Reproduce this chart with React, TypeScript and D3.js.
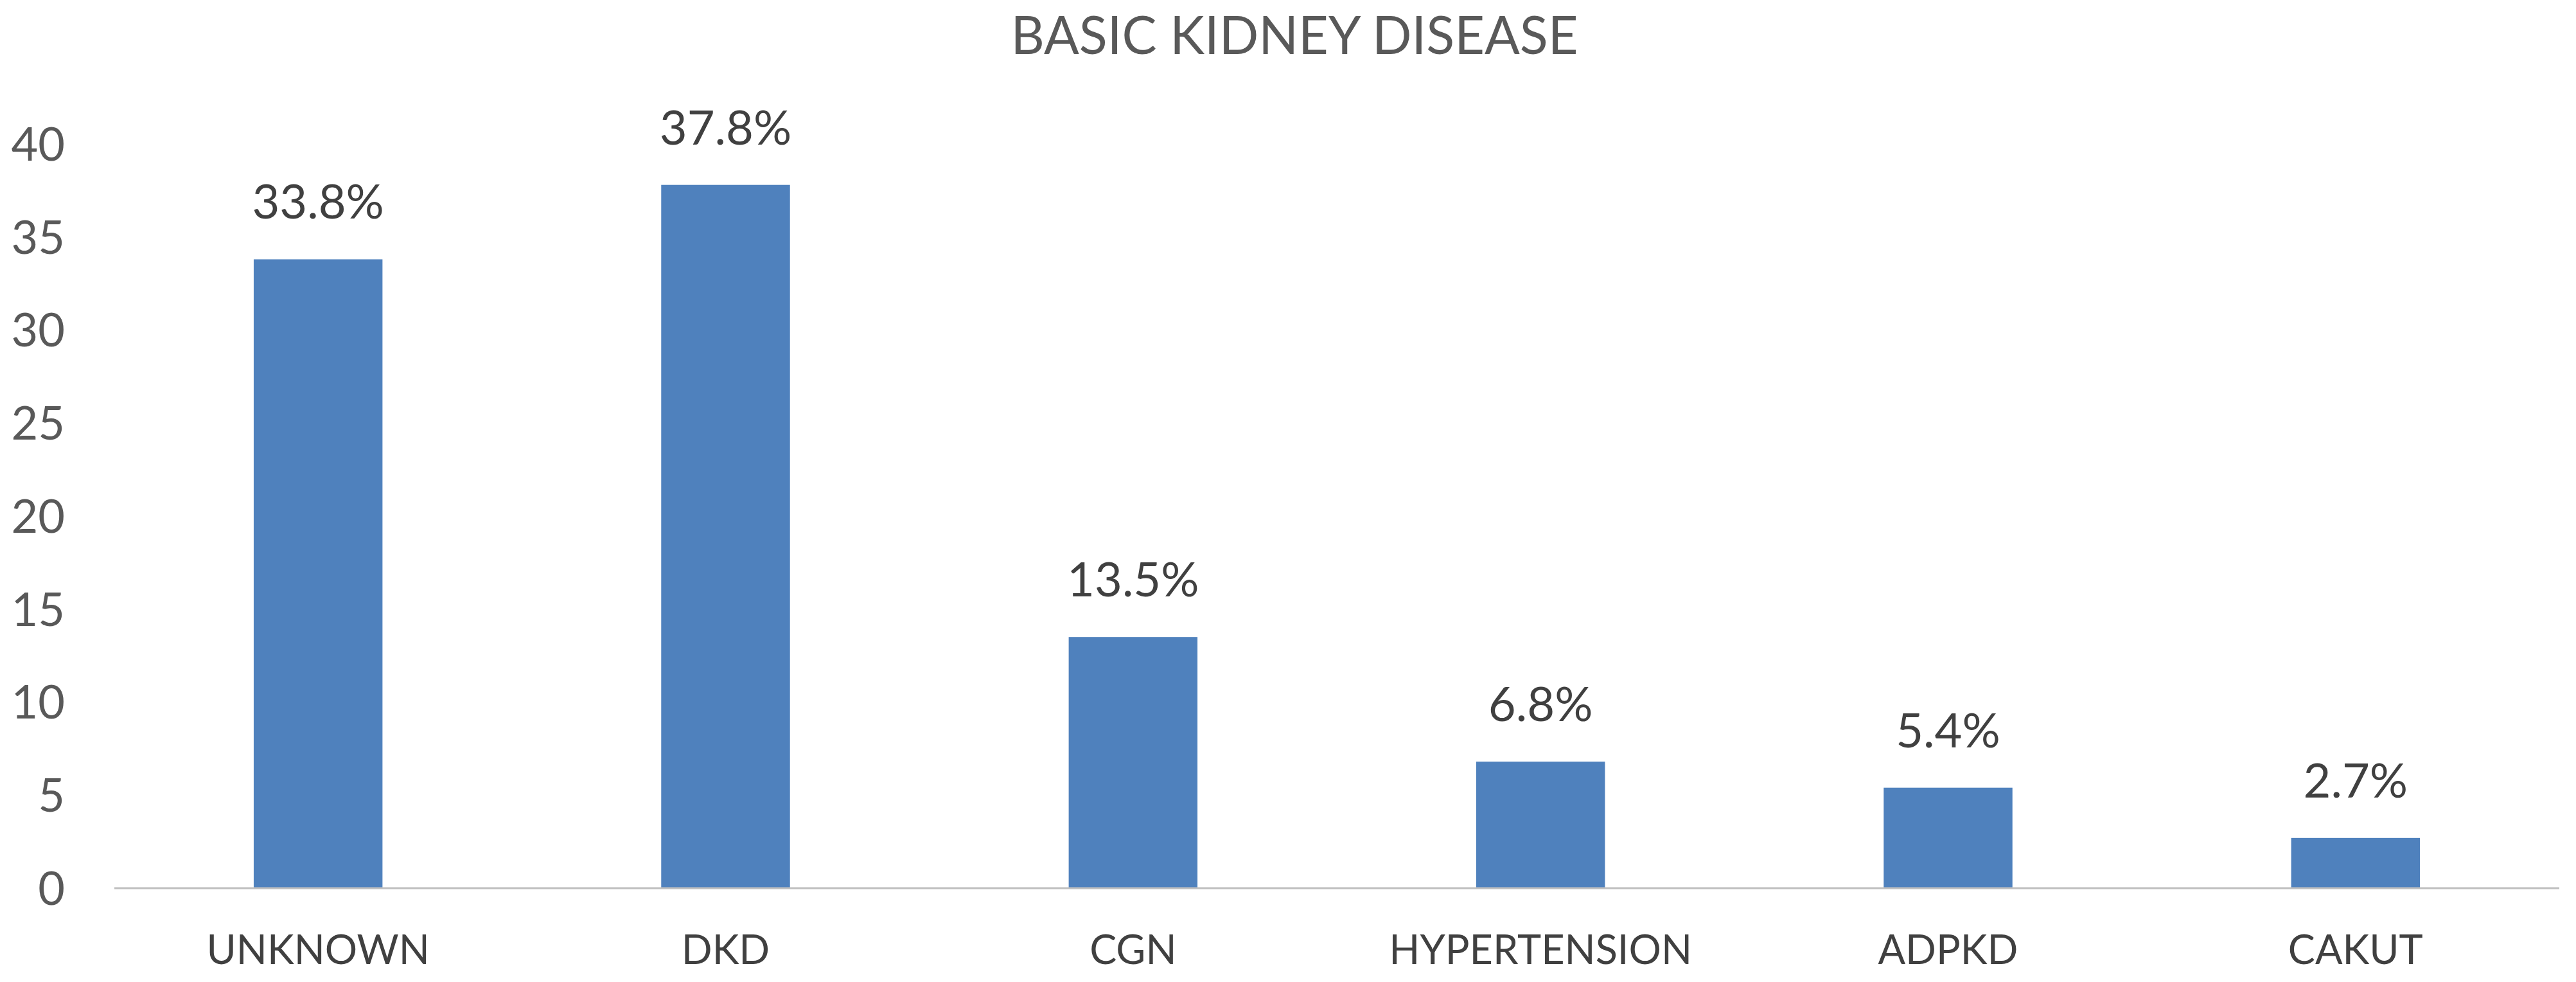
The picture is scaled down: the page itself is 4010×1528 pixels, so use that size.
import React, { useEffect, useRef } from 'react';
import * as d3 from 'd3';

const categories = ['UNKNOWN', 'DKD', 'CGN', 'HYPERTENSION', 'ADPKD', 'CAKUT'];
const values = [33.8, 37.8, 13.5, 6.8, 5.4, 2.7];
const yTicks = [0, 5, 10, 15, 20, 25, 30, 35, 40];
const title = 'BASIC KIDNEY DISEASE';

const width = 4010;
const height = 1528;

const App: React.FC = () => {
  const svgRef = useRef<SVGSVGElement>(null);

  useEffect(() => {
    if (!svgRef.current) return;
    const svg = d3.select(svgRef.current);
    svg.selectAll('*').remove();

    const font = 'Lato, sans-serif';
    const colors = {
      bar: '#4f81bd',
      axis: '#bfbfbf',
      tick: '#595959',
      label: '#404040',
      title: '#595959'
    };

    const plot = { left: 178, right: 3984, top: 224, bottom: 1382 };

    svg.append('rect').attr('width', width).attr('height', height).attr('fill', '#ffffff');

    svg.append('text')
      .attr('x', width / 2 + 10).attr('y', 84)
      .attr('text-anchor', 'middle')
      .attr('fill', colors.title)
      .style('font-family', font)
      .style('font-size', '81px')
      .text(title);

    const x = d3.scaleBand<string>()
      .domain(categories)
      .range([plot.left, plot.right])
      .paddingInner(0.684)
      .paddingOuter(0.342);

    const y = d3.scaleLinear().domain([0, 40]).range([plot.bottom, plot.top]);

    // y tick labels only: the chart has no y axis line or tick marks
    svg.append('g').selectAll('text')
      .data(yTicks).enter().append('text')
      .attr('x', 101).attr('y', d => y(d))
      .attr('dy', '0.36em')
      .attr('text-anchor', 'end')
      .attr('fill', colors.tick)
      .style('font-family', font)
      .style('font-size', '72px')
      .text(d => String(d));

    const data = categories.map((c, i) => ({ cat: c, value: values[i] }));

    svg.append('g').selectAll('rect')
      .data(data).enter().append('rect')
      .attr('x', d => x(d.cat)!)
      .attr('y', d => y(d.value))
      .attr('width', x.bandwidth())
      .attr('height', d => y(0) - y(d.value))
      .attr('fill', colors.bar);

    svg.append('line')
      .attr('x1', plot.left).attr('x2', plot.right)
      .attr('y1', y(0)).attr('y2', y(0))
      .attr('stroke', colors.axis).attr('stroke-width', 3);

    svg.append('g').selectAll('text')
      .data(data).enter().append('text')
      .attr('x', d => x(d.cat)! + x.bandwidth() / 2)
      .attr('y', d => y(d.value) - 63)
      .attr('text-anchor', 'middle')
      .attr('fill', colors.label)
      .style('font-family', font)
      .style('font-size', '74px')
      .text(d => `${d.value.toFixed(1)}%`);

    svg.append('g').selectAll('text')
      .data(categories).enter().append('text')
      .attr('x', d => x(d)! + x.bandwidth() / 2)
      .attr('y', y(0) + 118)
      .attr('text-anchor', 'middle')
      .attr('fill', colors.label)
      .style('font-family', font)
      .style('font-size', '63px')
      .text(d => d);
  }, []);

  return (
    <svg
      ref={svgRef}
      width={width}
      height={height}
      viewBox={`0 0 ${width} ${height}`}
      style={{ position: 'absolute', left: 0, top: 0 }}
    />
  );
};

export default App;
